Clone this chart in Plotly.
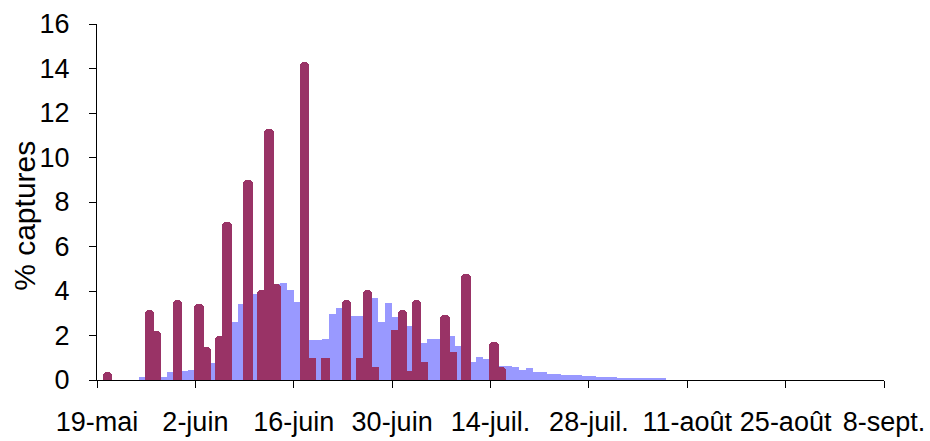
import pandas as pd
import plotly.graph_objects as go

# Season start and the daily capture share (%) for the whole trapping period
start_date = "2011-05-19"
daily_pct = [
    0, 0, 0, 0, 0, 0, 0.12, 0.1, 0.12, 0.15,
    0.35, 0.3, 0.4, 0.45, 0.67, 0.7, 0.75, 0.6, 1.8, 2.6,
    3.4, 3.6, 3.85, 3.2, 3.8, 4.3, 4.35, 4.05, 3.5, 2.65,
    1.8, 1.8, 1.85, 2.95, 3.25, 3.2, 2.88, 2.88, 3.7, 3.7,
    2.62, 3.45, 2.82, 2.6, 2.43, 1.57, 1.65, 1.84, 1.85, 1.9,
    2.0, 1.55, 0.8, 0.82, 1.02, 0.96, 0.9, 0.63, 0.63, 0.6,
    0.45, 0.52, 0.36, 0.34, 0.27, 0.27, 0.22, 0.22, 0.22, 0.17,
    0.17, 0.15, 0.15, 0.15, 0.1, 0.08, 0.1, 0.08, 0.1, 0.08,
    0.1,
]

# Sampling days (offset from the start date) and their capture share (%)
sample_day = [1, 7, 8, 11, 14, 15, 17, 18, 21, 23, 24, 25, 29, 30, 32,
              35, 37, 38, 39, 42, 43, 44, 45, 46, 49, 50, 52, 56, 57]
sample_pct = [0.35, 3.15, 2.2, 3.6, 3.4, 1.5, 2.0, 7.1, 9.0, 4.05, 11.3, 4.3,
              14.3, 1.0, 1.0, 3.6, 1.0, 4.05, 0.6, 2.25, 3.15, 0.4, 3.6, 0.8,
              2.9, 1.25, 4.75, 1.7, 0.6]

# Axis ticks
tick_dates = pd.date_range(start_date, periods=9, freq="14D")
tick_text = ["19-mai", "2-juin", "16-juin", "30-juin", "14-juil.",
             "28-juil.", "11-août", "25-août", "8-sept."]
y_ticks = list(range(0, 17, 2))
y_title = "% captures"

day_ms = 86400000
daily_dates = pd.date_range(start_date, periods=len(daily_pct), freq="D")
sample_dates = pd.to_datetime(start_date) + pd.to_timedelta(sample_day, unit="D")

font_family = "Liberation Sans, Arial, sans-serif"

fig = go.Figure()
fig.add_trace(go.Bar(
    x=daily_dates, y=daily_pct,
    xperiod=day_ms, xperiodalignment="middle",
    width=day_ms,
    marker=dict(color="#9999FF", line=dict(width=0)),
    showlegend=False,
))
fig.add_trace(go.Bar(
    x=sample_dates, y=sample_pct,
    xperiod=day_ms, xperiodalignment="middle",
    width=1.33 * day_ms,
    marker=dict(color="#993366", line=dict(width=0), cornerradius=4),
    showlegend=False,
))

fig.update_layout(
    width=930, height=441,
    margin=dict(l=97, r=46, t=24, b=61),
    paper_bgcolor="white", plot_bgcolor="white",
    barmode="overlay", bargap=0,
    font=dict(family=font_family, size=27, color="black"),
)
fig.update_xaxes(
    type="date", automargin=False,
    range=[tick_dates[0], tick_dates[-1]],
    tickmode="array", tickvals=tick_dates, ticktext=tick_text,
    ticks="outside", ticklen=7, tickwidth=1, tickcolor="black",
    showline=True, linecolor="black", linewidth=1,
    showgrid=False, zeroline=False,
    tickfont=dict(size=27),
    ticklabelstandoff=11,
)
fig.update_yaxes(
    range=[0, 16], automargin=False,
    tickmode="array", tickvals=y_ticks,
    ticks="outside", ticklen=7, tickwidth=1, tickcolor="black",
    showline=True, linecolor="black", linewidth=1,
    showgrid=False, zeroline=False,
    tickfont=dict(size=27),
    ticklabelstandoff=14,
)

# Vertical axis title, set a little below the middle of the plot
fig.add_annotation(
    text=y_title, textangle=-90, showarrow=False,
    xref="paper", yref="paper", x=-0.092, y=0.46,
    xanchor="center", yanchor="middle",
    font=dict(size=30),
)

fig.write_html("out.html")
